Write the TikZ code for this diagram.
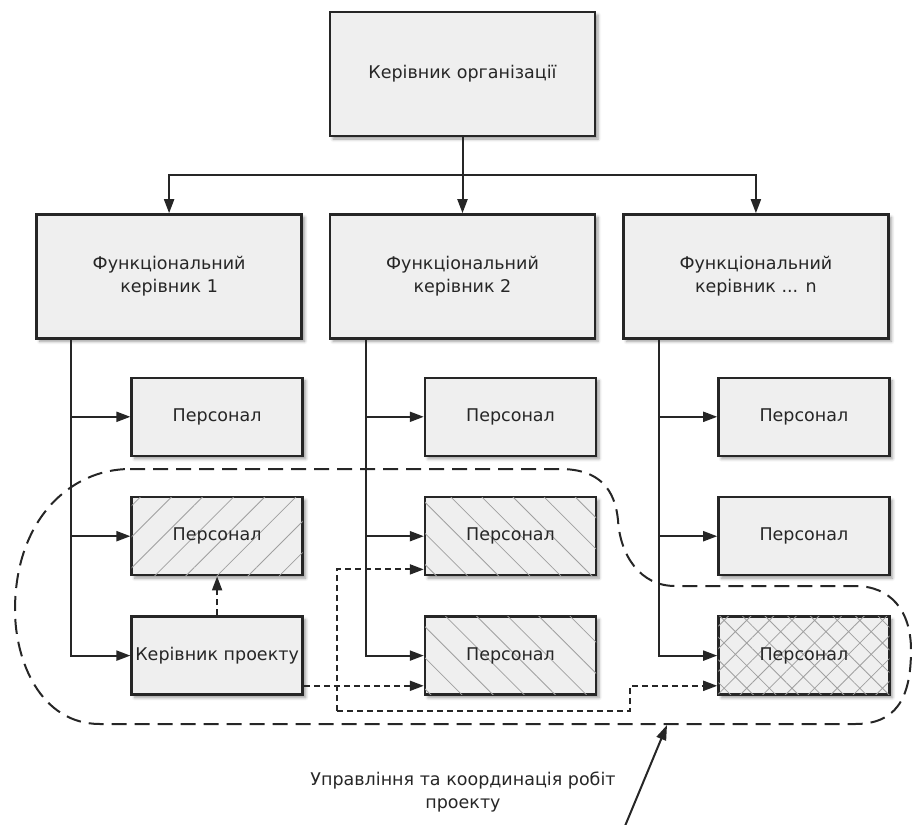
\documentclass[tikz,border=0pt]{standalone}
\usepackage{fontspec}
\setmainfont{DejaVu Sans}
\usepackage{tikz}
\usetikzlibrary{arrows.meta, positioning, calc, patterns.meta, shadows.blur}

\definecolor{rama}{HTML}{262626}
\definecolor{fon}{HTML}{EFEFEF}
\definecolor{shtrikh}{HTML}{A0A0A0}

\begin{document}
\begin{tikzpicture}[
    x=1pt, y=-1pt,
    font=\fontsize{17.5}{23}\selectfont,
    blok/.style={draw=rama, line width=2.4pt, fill=fon, align=center,
                 text=black!85, inner sep=2pt,
                 blur shadow={shadow xshift=3pt, shadow yshift=-3pt,
                              shadow blur steps=5, shadow blur radius=3pt}},
    kerivnyk/.style={blok, minimum width=265pt, minimum height=124pt},
    personal/.style={blok, minimum width=171pt, minimum height=78pt},
    kosa/.style={postaction={pattern={Lines[angle=45, distance=22pt, line width=0.8pt]},
                             pattern color=shtrikh}},
    zvorotna/.style={postaction={pattern={Lines[angle=-45, distance=22pt, line width=0.8pt]},
                                 pattern color=shtrikh}},
    sitka/.style={postaction={pattern={Hatch[angle=45, distance=16pt, line width=0.8pt]},
                              pattern color=shtrikh}},
    lin/.style={draw=rama, line width=2pt},
    strilka/.style={lin, -{Triangle[length=14pt, width=10pt]}},
    kontrol/.style={strilka, dash pattern=on 6pt off 4pt},
    mezha/.style={draw=rama, line width=2pt, dash pattern=on 15pt off 8pt}
  ]
  \useasboundingbox (0,0) rectangle (912,824);

  % --- Рівень 1: керівник організації ---
  \node[kerivnyk] (org) at (462.5,74) {Керівник організації};

  % --- Рівень 2: функціональні керівники ---
  \node[kerivnyk, below=76pt of org] (f2) {Функціональний\\керівник 2};
  \node[kerivnyk, left=26pt of f2] (f1) {Функціональний\\керівник 1};
  \node[kerivnyk, right=26pt of f2] (f3) {Функціональний\\керівник ... n};

  \coordinate (shyna) at ($(org.south)!0.5!(f2.north)$);
  \draw[strilka] (org.south) -- (f2.north);
  \draw[strilka] (shyna) -| (f1.north);
  \draw[strilka] (shyna) -| (f3.north);

  % --- Рівень 3: персонал ---
  \node[personal, anchor=north east] (p1a) at ([xshift=1pt, yshift=-37pt]f1.south east) {Персонал};
  \node[personal, kosa, below=39pt of p1a] (p1b) {Персонал};
  \node[personal, below=39pt of p1b] (pm) {Керівник проекту};

  \node[personal, anchor=north east] (p2a) at ([xshift=1pt, yshift=-37pt]f2.south east) {Персонал};
  \node[personal, zvorotna, below=39pt of p2a] (p2b) {Персонал};
  \node[personal, zvorotna, below=39pt of p2b] (p2c) {Персонал};

  \node[personal, anchor=north east] (p3a) at ([xshift=1pt, yshift=-37pt]f3.south east) {Персонал};
  \node[personal, below=39pt of p3a] (p3b) {Персонал};
  \node[personal, sitka, below=39pt of p3b] (p3c) {Персонал};

  % лінійне підпорядкування
  \coordinate (v1) at ([xshift=36pt]f1.south west);
  \coordinate (v2) at ([xshift=37pt]f2.south west);
  \coordinate (v3) at ([xshift=37pt]f3.south west);
  \draw[strilka] (v1) |- (pm.west);
  \draw[strilka] (v2) |- (p2c.west);
  \draw[strilka] (v3) |- (p3c.west);
  \foreach \k in {1,2,3} {
    \draw[strilka] (v\k |- p\k a.west) -- (p\k a.west);
  }
  \draw[strilka] (v1 |- p1b.west) -- (p1b.west);
  \draw[strilka] (v2 |- p2b.west) -- (p2b.west);
  \draw[strilka] (v3 |- p3b.west) -- (p3b.west);

  % --- Проектне управління (пунктир) ---
  \coordinate (povorot) at (337,711);
  \coordinate (skhid) at (630,711);
  \draw[kontrol] (pm.north) -- (p1b.south);
  \draw[kontrol] ([yshift=10pt]pm.south east) -- ([yshift=10pt]p2c.south west);
  \draw[kontrol] (povorot) |- ([yshift=7pt]p2b.south west);
  \draw[kontrol] (povorot) -- (skhid) |- ([yshift=10pt]p3c.south west);

  % межа проекту
  \draw[mezha] (130,469) -- (560,469)
    .. controls (600,469) and (615,490) .. (618,520)
    .. controls (620,555) and (640,586) .. (675,586) -- (855,586)
    .. controls (890,586) and (911,610) .. (911,650)
    .. controls (911,700) and (895,724) .. (855,724) -- (100,724)
    .. controls (40,724) and (15,660) .. (15,610)
    .. controls (15,520) and (70,469) .. (130,469) -- cycle;

  % --- Підпис ---
  \node[align=center, text=black!85] (pidpys) at (463,792)
    {Управління та координація робіт\\проекту};
  \coordinate (vkaz) at (625,826);
  \coordinate (mezhapt) at (667,725);
  \draw[lin, -{Triangle[length=15pt, width=10pt]}] (vkaz) -- (mezhapt);
\end{tikzpicture}
\end{document}
